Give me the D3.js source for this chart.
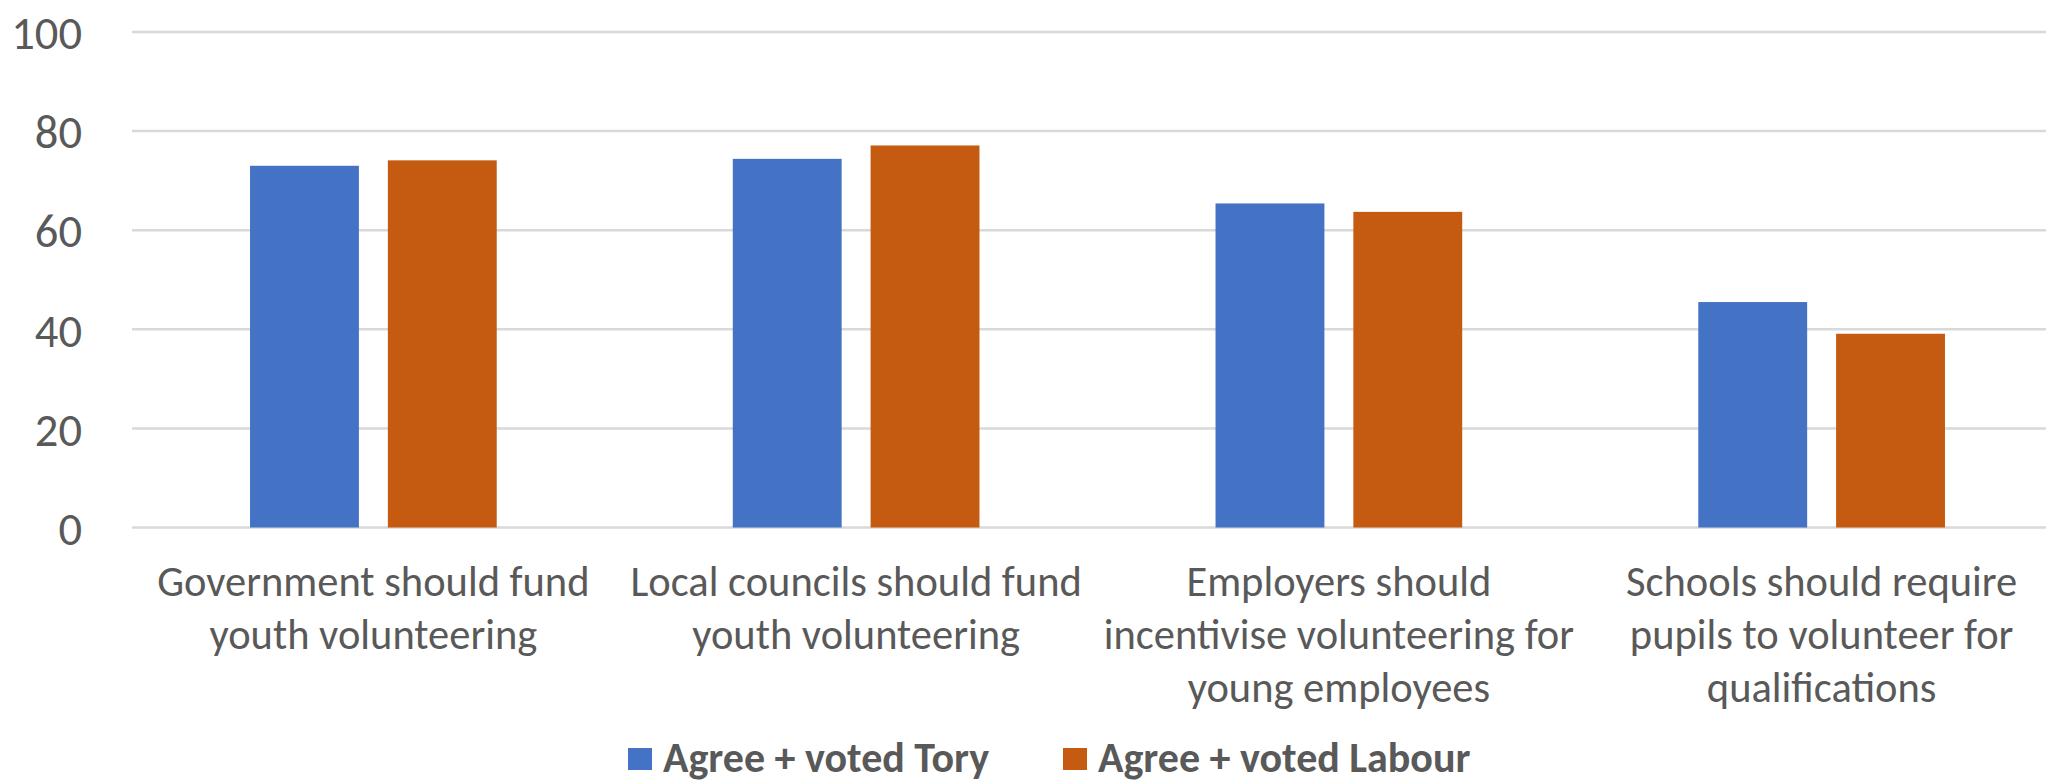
<!DOCTYPE html>
<html>
<head>
<meta charset="utf-8">
<script src="https://cdn.jsdelivr.net/npm/d3@7"></script>
<style>
html,body{margin:0;padding:0;background:#fff;overflow:hidden;}
svg{display:block;}
</style>
</head>
<body>
<svg id="chart" width="2046" height="783"></svg>
<script>
const categories = [
  ["Government should fund", "youth volunteering"],
  ["Local councils should fund", "youth volunteering"],
  ["Employers should", "incentivise volunteering for", "young employees"],
  ["Schools should require", "pupils to volunteer for", "qualifications"]
];
const seriesNames = ["Agree + voted Tory", "Agree + voted Labour"];
const toryValues = [73.0, 74.4, 65.4, 45.5];
const labourValues = [74.1, 77.1, 63.7, 39.1];
const yTicks = [0, 20, 40, 60, 80, 100];
const colors = ["#4472C4", "#C55A11"];

const FONT = "Carlito, Calibri, Lato, 'Liberation Sans', sans-serif";
const svg = d3.select("#chart");
const plotLeft = 132, plotRight = 2063, plotTop = 32, plotBottom = 527.5;

const catKeys = categories.map((c, i) => "c" + i);
const x0 = d3.scaleBand().domain(catKeys).range([plotLeft, plotRight]).paddingInner(0.489).paddingOuter(0.2445);
const x1 = d3.scaleBand().domain([0, 1]).range([0, x0.bandwidth()]).paddingInner(0.21);
const y = d3.scaleLinear().domain([0, 100]).range([plotBottom, plotTop]);

// gridlines
svg.append("g").selectAll("line").data(yTicks).join("line")
  .attr("x1", plotLeft).attr("x2", 2046)
  .attr("y1", d => y(d)).attr("y2", d => y(d))
  .attr("stroke", "#d9d9d9").attr("stroke-width", 2.5);

// y axis labels
const yAxis = d3.axisLeft(y).tickValues(yTicks).tickSize(0).tickPadding(0);
const gy = svg.append("g").attr("transform", "translate(82,0)").call(yAxis);
gy.select(".domain").remove();
gy.selectAll("text").attr("font-family", FONT).attr("font-size", 46.5).attr("fill", "#595959").attr("dy", "0.36em");

// bars
const data = catKeys.map((k, i) => ({ key: k, vals: [toryValues[i], labourValues[i]] }));
const groups = svg.append("g").selectAll("g").data(data).join("g")
  .attr("transform", d => `translate(${x0(d.key)},0)`);
groups.selectAll("rect").data(d => d.vals.map((v, j) => ({ v, j }))).join("rect")
  .attr("x", d => x1(d.j)).attr("width", x1.bandwidth())
  .attr("y", d => y(d.v)).attr("height", d => y(0) - y(d.v))
  .attr("fill", d => colors[d.j]);

// category labels
const lab = svg.append("g").selectAll("text").data(categories).join("text")
  .attr("x", (d, i) => x0(catKeys[i]) + x0.bandwidth() / 2)
  .attr("y", 596)
  .attr("text-anchor", "middle")
  .attr("font-family", FONT).attr("font-size", 42.5).attr("fill", "#595959");
lab.selectAll("tspan").data(d => d).join("tspan")
  .attr("x", function () { return this.parentNode.getAttribute("x"); })
  .attr("dy", (d, i) => i === 0 ? 0 : 53)
  .text(d => d);

// legend
const legX = [628, 1063];
const leg = svg.append("g").selectAll("g").data(seriesNames).join("g")
  .attr("transform", (d, i) => `translate(${legX[i]},0)`);
leg.append("rect").attr("x", 0).attr("y", 748).attr("width", 24).attr("height", 22)
  .attr("fill", (d, i) => colors[i]);
leg.append("text").attr("x", 35).attr("y", 772)
  .attr("font-family", FONT).attr("font-size", 42).attr("font-weight", "bold")
  .attr("fill", "#595959").text(d => d);
</script>
</body>
</html>
